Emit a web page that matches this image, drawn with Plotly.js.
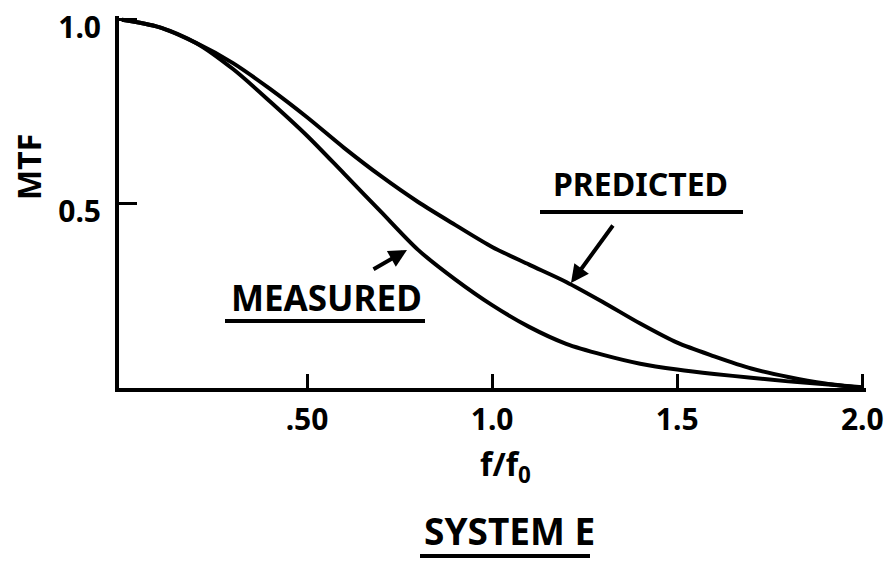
<!DOCTYPE html>
<html>
<head>
<meta charset="utf-8">
<script src="https://cdn.plot.ly/plotly-3.0.1.min.js"></script>
<style>html,body{margin:0;padding:0;background:#fff;}#chart{width:889px;height:565px;}</style>
</head>
<body>
<div id="chart"></div>
<script>
// f/f0 sample points
const freq = [0, 0.1, 0.2, 0.3, 0.4, 0.5, 0.6, 0.7, 0.8, 0.9, 1.0, 1.1, 1.2, 1.3, 1.4, 1.5, 1.6, 1.7, 1.8, 1.9, 2.0];
// MTF values
const predicted = [1.0, 0.98, 0.937, 0.882, 0.812, 0.735, 0.652, 0.575, 0.505, 0.443, 0.383, 0.335, 0.288, 0.233, 0.175, 0.123, 0.086, 0.053, 0.030, 0.012, 0.0];
const measured  = [1.0, 0.98, 0.937, 0.866, 0.778, 0.685, 0.582, 0.478, 0.375, 0.295, 0.225, 0.166, 0.12, 0.090, 0.066, 0.050, 0.038, 0.028, 0.018, 0.010, 0.002];
const xTickVals = [0.5, 1.0, 1.5, 2.0];
const xTickText = ['.50', '1.0', '1.5', '2.0'];
const yTickVals = [0.5, 1.0];
const yTickText = ['0.5', '1.0'];

const FONT = 'Noto Sans, Roboto, sans-serif';
const W = 889, H = 565, L = 119, R = 23, T = 16, B = 177;
const pw = W - L - R, ph = H - T - B;
const px = v => (v - L) / pw;
const py = v => (H - B - v) / ph;
const fnt = size => ({family: FONT, size: size, color: '#000', weight: 'bold', stretch: 'condensed'});

const line = {color: '#000', width: 4, shape: 'spline', smoothing: 0.8};
const traces = [
  {x: freq, y: predicted, mode: 'lines', line: line, name: 'PREDICTED', hoverinfo: 'skip'},
  {x: freq, y: measured, mode: 'lines', line: line, name: 'MEASURED', hoverinfo: 'skip'}
];

const lab = (text, x, y, size, extra) => Object.assign({
  text: text, xref: 'paper', yref: 'paper', x: px(x), y: py(y),
  xanchor: 'center', yanchor: 'middle', showarrow: false, font: fnt(size)
}, extra || {});

const uline = (x0, x1, y) => ({type: 'line', xref: 'paper', yref: 'paper',
  x0: px(x0), x1: px(x1), y0: py(y), y1: py(y), line: {color: '#000', width: 4}});

const layout = {
  width: W, height: H,
  margin: {l: L, r: R, t: T, b: B},
  paper_bgcolor: '#fff', plot_bgcolor: '#fff',
  showlegend: false,
  xaxis: {
    range: [-0.008, 2.01], showgrid: false, zeroline: false,
    showline: true, linecolor: '#000', linewidth: 4,
    ticks: 'inside', ticklen: 14, tickwidth: 3, tickcolor: '#000',
    tickvals: xTickVals, ticktext: xTickText, tickfont: fnt(30),
    ticklabeloverflow: 'allow', ticklabelstandoff: 2
  },
  yaxis: {
    range: [0, 1.01], showgrid: false, zeroline: false,
    showline: true, linecolor: '#000', linewidth: 4,
    ticks: 'inside', ticklen: 18, tickwidth: 3, tickcolor: '#000',
    tickvals: yTickVals, ticktext: yTickText, tickfont: fnt(30),
    ticklabeloverflow: 'allow', ticklabelstandoff: 8, ticklabelshift: 8
  },
  annotations: [
    lab('MTF', 28, 167, 32, {textangle: -90}),
    lab('f/f<sub>0</sub>', 505, 466, 32),
    lab('SYSTEM E', 509, 530, 37),
    lab('MEASURED', 326, 297, 35),
    lab('PREDICTED', 640, 183, 32),
    {xref: 'paper', yref: 'paper', x: px(407), y: py(250), ax: -35, ay: 20,
     axref: 'pixel', ayref: 'pixel', text: '', showarrow: true,
     arrowhead: 2, arrowsize: 0.9, arrowwidth: 4, arrowcolor: '#000'},
    {xref: 'paper', yref: 'paper', x: px(571), y: py(283), ax: 43, ay: -59,
     axref: 'pixel', ayref: 'pixel', text: '', showarrow: true,
     arrowhead: 2, arrowsize: 0.9, arrowwidth: 4, arrowcolor: '#000'}
  ],
  shapes: [
    uline(225, 425, 321),
    uline(540, 743, 212),
    uline(420, 590, 556)
  ]
};

Plotly.newPlot('chart', traces, layout, {displayModeBar: false, staticPlot: true});
</script>
</body>
</html>
